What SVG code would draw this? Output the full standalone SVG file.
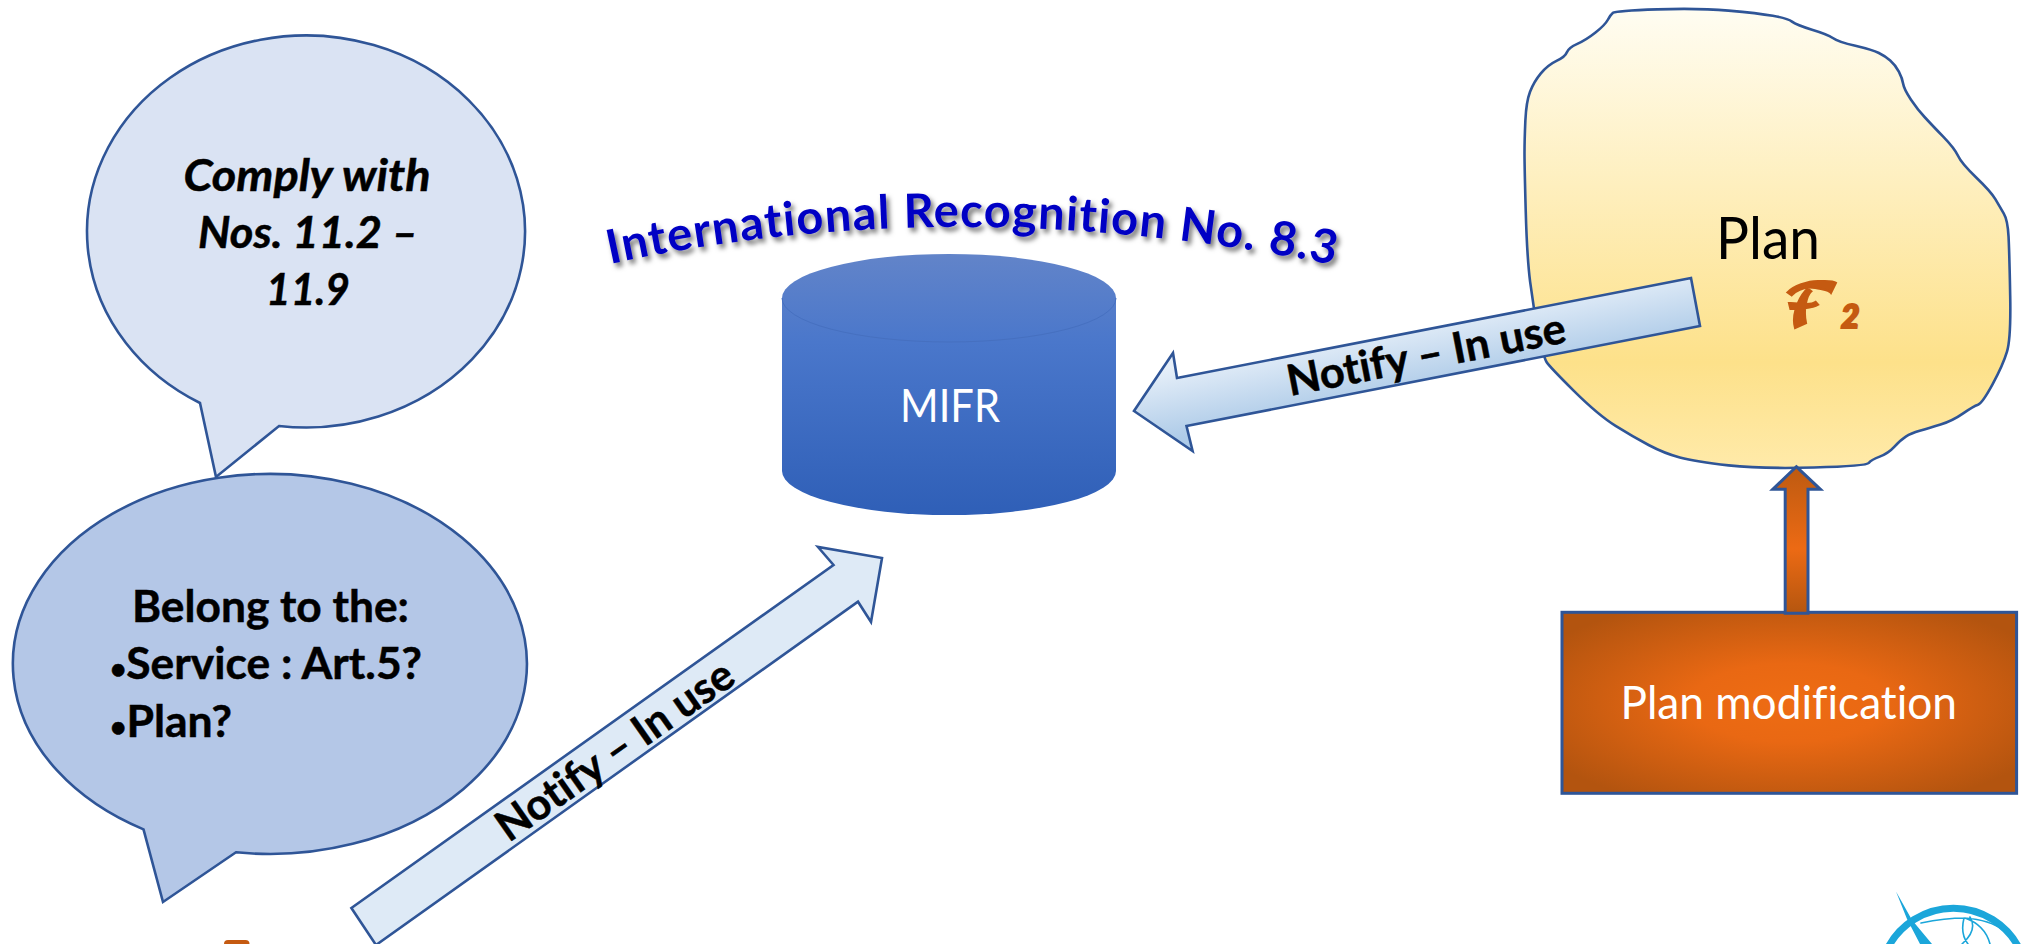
<svg xmlns="http://www.w3.org/2000/svg" width="2025" height="944" viewBox="0 0 2025 944">
<style>
text{font-variant-ligatures:none}
.o{stroke:#2f5597;stroke-width:2.6;stroke-linejoin:miter}
.t{font-family:Lato,"Liberation Sans",sans-serif}
.b{font-weight:700;fill:#000;font-size:44px;stroke:#000;stroke-width:.5}
.w{fill:#fff;font-size:46px}
.n{font-family:Lato,"Liberation Sans",sans-serif;font-weight:700;font-size:43px;fill:#000;stroke:#000;stroke-width:.5}
.logo{fill:none;stroke:#1ba6da;stroke-linecap:round}
</style>
<defs>
<linearGradient id="cap" gradientUnits="userSpaceOnUse" x1="0" y1="254" x2="0" y2="515"><stop offset="0" stop-color="#6284c9"/><stop offset="0.34" stop-color="#4a77cb"/><stop offset="1" stop-color="#2f5fb7"/></linearGradient>
<linearGradient id="blue" gradientUnits="userSpaceOnUse" x1="1423" y1="317" x2="1437" y2="387"><stop offset="0" stop-color="#e6eff9"/><stop offset="1" stop-color="#aecbe8"/></linearGradient>
<linearGradient id="plan" x1="0" y1="0" x2="0" y2="1"><stop offset="0" stop-color="#fffdf2"/><stop offset="0.77" stop-color="#fde18a"/><stop offset="1" stop-color="#ffeaa9"/></linearGradient>
<linearGradient id="up" x1="0" y1="0" x2="0" y2="1"><stop offset="0" stop-color="#bd5a11"/><stop offset="0.56" stop-color="#ec6a14"/><stop offset="1" stop-color="#b5560f"/></linearGradient>
<radialGradient id="mod" cx="0.5" cy="0.5" r="0.62"><stop offset="0" stop-color="#ee6c13"/><stop offset="0.35" stop-color="#e96813"/><stop offset="1" stop-color="#b3540f"/></radialGradient>
<filter id="sh" x="-5%" y="-30%" width="110%" height="170%"><feDropShadow dx="3" dy="4" stdDeviation="2.5" flood-color="#000" flood-opacity="0.55"/></filter>
<path id="arc" d="M610 264Q960 188 1350 268"/>
</defs>
<rect width="2025" height="944" fill="#fff"/>

<g id="bubble-comply">
<path class="o" fill="#dae3f3" d="M200 403L216 477L279 426A219 196 0 1 0 200 403Z"/>
<g class="t b" font-style="italic" text-anchor="middle">
<text x="307" y="191" textLength="247" lengthAdjust="spacingAndGlyphs">Comply with</text>
<text x="308" y="248" textLength="220" lengthAdjust="spacingAndGlyphs">Nos. 11.2 –</text>
<text x="308" y="305" textLength="84" lengthAdjust="spacingAndGlyphs">11.9</text>
</g>
</g>

<g id="bubble-belong">
<path class="o" fill="#b4c7e7" d="M143.5 829.4L163 902L236 852.3A257 190 0 1 0 143.5 829.4Z"/>
<g class="t b">
<text x="132" y="622" textLength="277" lengthAdjust="spacingAndGlyphs">Belong to the:</text>
<text x="110" y="679" textLength="312" lengthAdjust="spacingAndGlyphs"><tspan font-size="28">•</tspan>Service : Art.5?</text>
<text x="110" y="737" textLength="122" lengthAdjust="spacingAndGlyphs"><tspan font-size="28">•</tspan>Plan?</text>
</g>
</g>

<g id="recognition-title">
<text class="t" font-weight="700" font-size="47" letter-spacing="1.2" fill="#0000c4" filter="url(#sh)"><textPath href="#arc">International Recognition No. 8.3</textPath></text>
</g>

<g id="mifr">
<path fill="url(#cap)" d="M782 298A167 44 0 0 1 1116 298V471A167 44 0 0 1 782 471Z"/>
<path fill="none" stroke="#4670c0" stroke-width="1" d="M782 298A167 44 0 0 0 1116 298"/>
<text class="t w" x="900" y="422" textLength="100" lengthAdjust="spacingAndGlyphs">MIFR</text>
</g>

<g id="plan-shape">
<path class="o" fill="url(#plan)" d="M1657.3 9.35Q1699 8 1728.5 10.65Q1758 13.3 1772.8 15.8Q1787.6 18.3 1792 21.65Q1796.3 25 1812 29.65Q1827.6 34.3 1832.8 38Q1838 41.7 1855.4 45.85Q1872.8 50 1878.9 53Q1885 56 1890.2 60.5Q1895.4 65 1898.85 71.65Q1902.3 78.3 1903.15 83.8Q1904 89.3 1911 99.65Q1918 110 1925 117.5Q1931.9 125 1943.2 136.65Q1954.5 148.3 1958 155.8Q1961.4 163.3 1976.2 177.5Q1991 191.7 1995.35 199.2Q1999.7 206.7 2003.7 213.35Q2007.7 220 2008.55 236.65Q2009.4 253.3 2010.2 295.8Q2011 338.3 2007 351.65Q2003 365 1992.65 384.15Q1982.3 403.3 1978 404.65Q1973.6 406 1963.15 413.35Q1952.7 420.7 1940.55 424.5Q1928.4 428.3 1919.7 430.8Q1911 433.3 1905.8 436.65Q1900.6 440 1894.5 446.65Q1888.4 453.3 1879.7 456.65Q1871 460 1868.75 463Q1866.5 466 1814 467.5Q1761.6 469 1728.55 465.35Q1695.5 461.7 1679.85 457.5Q1664.2 453.3 1648.6 445Q1633 436.7 1615.6 425.85Q1598.2 415 1573.85 390.85Q1549.5 366.7 1546.55 362Q1543.6 357.3 1538.4 332Q1533.2 306.7 1530.1 281.7Q1527 256.7 1525.75 211.7Q1524.5 166.7 1524.5 153.35Q1524.5 140 1525.35 120.85Q1526.2 101.7 1530.05 91.7Q1533.9 81.7 1540.85 73.35Q1547.8 65 1556.5 60.85Q1565.2 56.7 1566.9 52.2Q1568.6 47.7 1577.3 43.85Q1586 40 1595.5 32.5Q1605 25 1607.7 20Q1610.4 15 1613 12.85Q1615.6 10.7 1657.3 9.35Z"/>
<text class="t" x="1716" y="259" font-size="58" fill="#000" textLength="104" lengthAdjust="spacingAndGlyphs">Plan</text>
<text x="1783" y="325" font-family="'DejaVu Math TeX Gyre','Noto Sans Math','DejaVu Sans',sans-serif" font-size="56" fill="#c55a11" stroke="#c55a11" stroke-width="2.2">𝓕<tspan x="1841" y="328" font-size="32" font-family="Lato,sans-serif" font-weight="900" font-style="italic">2</tspan></text>
</g>

<g id="plan-modification">
<rect class="o" x="1562" y="612.3" width="454.6" height="181" fill="url(#mod)" style="stroke-width:3"/>
<text class="t w" x="1620.5" y="719" textLength="336.5" lengthAdjust="spacingAndGlyphs">Plan modification</text>
</g>

<g id="connectors">
<path class="o" fill="#deeaf6" d="M351.4 908L833.5 565L818 547L882 558L871 622L858 601.7L376 945Z"/>
<path class="o" fill="url(#blue)" d="M1691 278L1177 378L1173 353L1134 411L1192.6 451L1186.5 426L1700 326Z"/>
<path class="o" fill="url(#up)" style="stroke-width:3" d="M1796.3 466.7L1820.4 489.3H1808V613.3H1785.2V489.3H1772.8Z"/>
<text class="n" transform="translate(508.7 843) rotate(-35.1)" textLength="280" lengthAdjust="spacingAndGlyphs">Notify – In use</text>
<text class="n" transform="translate(1290 396) rotate(-11)" textLength="283" lengthAdjust="spacingAndGlyphs">Notify – In use</text>
</g>

<rect id="cropped-mark" x="224" y="940" width="25.5" height="12" rx="4" fill="#c55a11"/>

<g id="logo">
<path fill="#1ba6da" d="M1896 891.5L1912 920L1932 944H1920L1907 919Z"/>
<path class="logo" stroke-width="7" d="M1886.8 950A74 74 0 0 1 2020 950"/>
<path class="logo" stroke-width="1.6" d="M1921 923Q1945 918 1965 918Q1990 920 2003 930M1964 918Q1960 934 1968 944M1965 918Q1985 925 1990 944M1970 917Q1978 930 1962 944"/>
</g>
</svg>
